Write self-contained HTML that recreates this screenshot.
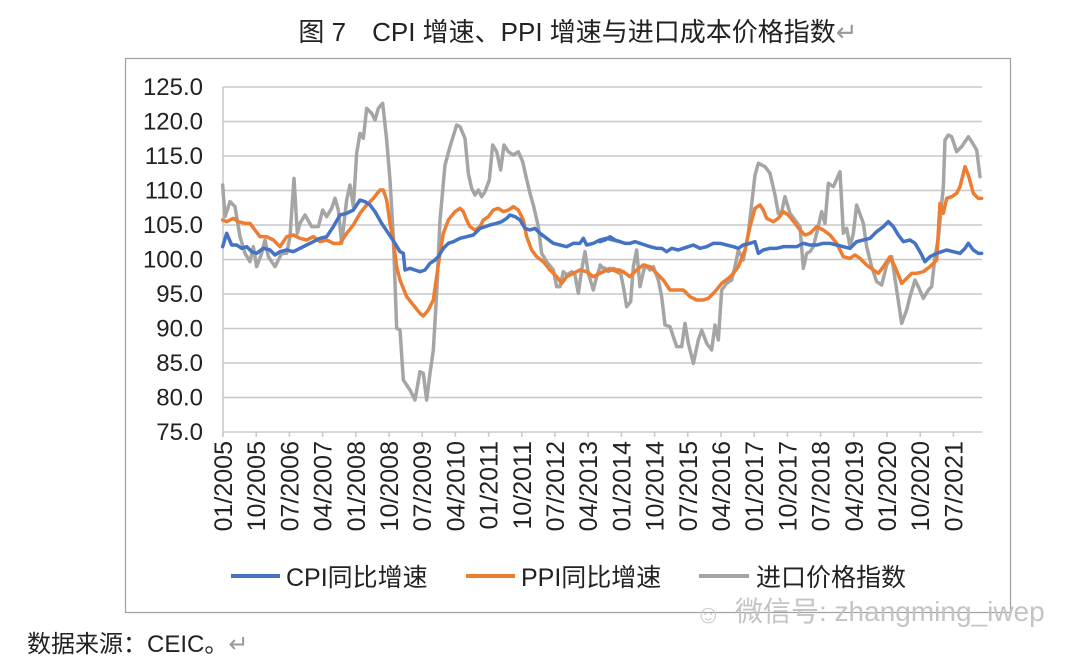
<!DOCTYPE html>
<html><head><meta charset="utf-8"><style>
body{margin:0;background:#fff;width:1080px;height:662px;overflow:hidden;font-family:"Liberation Sans","Noto Sans CJK SC",sans-serif;}
</style></head><body>
<svg width="1080" height="662" xmlns="http://www.w3.org/2000/svg" font-family="Liberation Sans, Noto Sans CJK SC, sans-serif">
<text x="578" y="41" font-size="26" text-anchor="middle" fill="#222">图 7　CPI 增速、PPI 增速与进口成本价格指数<tspan fill="#999">↵</tspan></text>
<rect x="125.5" y="58.5" width="885" height="554" fill="none" stroke="#a0a0a0" stroke-width="1.2"/>
<g stroke="#c8c8c8" stroke-width="1.5">
<line x1="223" x2="982" y1="87" y2="87"/><line x1="223" x2="982" y1="121.5" y2="121.5"/><line x1="223" x2="982" y1="156" y2="156"/><line x1="223" x2="982" y1="190.5" y2="190.5"/><line x1="223" x2="982" y1="225" y2="225"/><line x1="223" x2="982" y1="259.5" y2="259.5"/><line x1="223" x2="982" y1="294" y2="294"/><line x1="223" x2="982" y1="328.5" y2="328.5"/><line x1="223" x2="982" y1="363" y2="363"/><line x1="223" x2="982" y1="397.5" y2="397.5"/><line x1="223" x2="982" y1="432" y2="432"/>
<line x1="223" x2="223" y1="87" y2="437"/>
</g>
<g stroke="#c8c8c8" stroke-width="1.5" id="ticks"></g>
<g font-size="24" fill="#222" text-anchor="end">
<text x="203" y="95">125.0</text><text x="203" y="129.5">120.0</text><text x="203" y="164">115.0</text><text x="203" y="198.5">110.0</text><text x="203" y="233">105.0</text><text x="203" y="267.5">100.0</text><text x="203" y="302">95.0</text><text x="203" y="336.5">90.0</text><text x="203" y="371">85.0</text><text x="203" y="405.5">80.0</text><text x="203" y="440">75.0</text>
</g>
<g font-size="25" fill="#222" text-anchor="end" id="xl"></g>
<g fill="none" stroke-linejoin="round" stroke-linecap="round">
<g transform="translate(200,80) scale(0.33333)">
<polyline vector-effect="non-scaling-stroke" stroke="#a5a5a5" stroke-width="3.5" points="68,315 75,410 90,365 105,380 120,470 135,520 150,545 160,500 170,560 185,520 195,480 205,530 225,560 245,520 260,520 270,470 282,295 292,460 300,430 315,405 335,440 355,440 368,390 380,410 395,385 405,355 415,390 425,490 440,360 450,315 460,380 470,220 480,160 490,175 500,85 515,100 525,120 535,85 548,70 560,180 570,300 580,470 590,745 600,750 610,900 630,930 645,960 660,875 670,880 680,960 690,880 700,810 710,640 720,420 735,255 750,200 770,135 780,140 795,175 805,280 815,325 825,345 835,330 845,350 855,335 868,300 878,195 890,215 902,270 912,195 925,215 940,225 955,215 968,245 978,290 990,340 1000,375 1015,440 1025,520 1040,545 1060,570 1070,620 1080,620 1090,575 1100,585 1115,575 1125,585 1135,640 1145,570 1155,515 1165,580 1180,630 1190,590 1200,560 1215,565 1225,575 1240,565 1260,575"/>
<polyline vector-effect="non-scaling-stroke" stroke="#ed7d31" stroke-width="3.5" points="68,420 80,425 100,415 115,425 135,430 150,430 165,450 180,470 200,470 220,480 240,500 260,470 280,465 300,475 320,480 340,470 360,485 380,480 400,490 420,490 440,460 460,435 480,400 500,375 520,355 540,330 550,330 560,360 570,430 580,480 590,560 600,600 620,650 640,675 660,700 670,708 685,690 700,660 710,590 720,520 730,460 745,420 765,395 780,385 790,395 800,420 810,440 825,450 840,440 850,420 865,410 880,390 895,385 910,395 925,390 940,380 955,390 970,420 980,470 995,510 1010,530 1030,545 1050,570 1070,590 1085,610 1100,590 1120,580 1140,570 1160,575 1180,590 1200,580 1220,570 1240,570 1260,580"/>
<polyline vector-effect="non-scaling-stroke" stroke="#4472c4" stroke-width="3.5" points="68,500 80,460 95,495 110,495 125,505 140,500 155,515 170,520 190,505 210,510 225,525 240,515 260,510 280,515 300,505 320,495 340,485 360,475 380,470 400,440 420,405 440,400 460,390 480,360 495,365 510,375 525,395 545,430 565,460 585,490 600,515 610,520 615,570 630,565 645,570 660,575 675,570 690,550 705,540 715,530 730,505 745,490 760,485 780,475 800,470 820,465 840,445 855,440 870,435 890,430 905,425 920,415 930,405 945,410 960,420 975,445 990,450 1005,445 1020,460 1040,475 1060,490 1080,495 1100,500 1120,490 1140,490 1150,475 1160,495 1180,490 1200,480 1220,475 1240,480 1260,485"/>
</g>
<g transform="translate(600,80) scale(0.33333)">
<polyline vector-effect="non-scaling-stroke" stroke="#a5a5a5" stroke-width="3.5" points="0,555 15,570 30,565 45,570 60,570 70,620 80,680 92,665 100,560 110,510 120,620 135,555 150,570 160,560 175,600 185,650 195,735 210,740 230,800 245,800 255,730 265,790 280,850 295,780 305,750 320,790 335,810 345,735 355,780 365,630 380,610 395,600 405,560 415,510 430,540 445,460 465,285 475,250 495,260 510,280 525,345 535,400 545,395 555,350 570,400 585,420 600,440 610,565 620,520 630,515 640,500 650,460 665,395 675,430 685,310 700,320 720,275 730,460 740,445 750,500 760,460 770,375 790,430 800,500 815,560 830,605 845,615 860,555 875,530 890,630 905,730 920,690 930,650 945,600 955,620 970,655 985,630 995,620 1005,530 1015,475 1030,320 1035,180 1045,165 1055,170 1070,215 1085,200 1105,170 1115,185 1130,210 1140,290"/>
<polyline vector-effect="non-scaling-stroke" stroke="#ed7d31" stroke-width="3.5" points="0,580 20,570 40,570 55,570 70,575 90,590 110,570 130,555 150,560 170,580 190,600 210,630 230,630 250,630 270,650 290,660 310,660 325,655 345,635 365,610 385,595 400,580 415,560 435,510 450,440 465,385 480,375 490,390 500,415 520,425 535,415 550,395 565,405 585,430 600,450 615,465 630,460 650,440 670,450 690,465 710,490 730,530 750,535 765,525 780,535 800,555 820,570 835,580 850,560 870,530 885,560 905,610 920,595 935,580 950,580 970,575 990,560 1010,540 1020,370 1030,400 1040,355 1055,350 1070,340 1080,320 1095,260 1105,285 1120,340 1135,355 1145,355"/>
<polyline vector-effect="non-scaling-stroke" stroke="#4472c4" stroke-width="3.5" points="0,485 15,480 30,470 45,480 60,485 75,490 90,490 105,485 120,490 135,495 150,500 170,505 185,505 200,515 215,505 235,510 250,505 265,500 280,495 300,505 320,500 340,490 360,490 380,495 400,500 415,505 430,495 450,490 465,485 475,520 490,510 510,505 530,505 550,500 570,500 590,500 610,490 630,495 650,495 670,490 690,490 710,495 730,500 750,505 770,485 790,480 810,475 830,455 850,440 865,425 880,440 895,465 910,485 930,480 945,490 960,515 975,545 990,530 1010,520 1025,515 1040,510 1060,515 1080,520 1095,505 1105,490 1120,510 1135,520 1145,520"/>
</g>
</g>
<line x1="231" x2="280" y1="576" y2="576" stroke="#4472c4" stroke-width="4"/>
<text x="286" y="586" font-size="25" fill="#222">CPI同比增速</text>
<line x1="466" x2="515" y1="576" y2="576" stroke="#ed7d31" stroke-width="4"/>
<text x="521" y="586" font-size="25" fill="#222">PPI同比增速</text>
<line x1="699" x2="749" y1="576" y2="576" stroke="#a5a5a5" stroke-width="4"/>
<text x="756" y="586" font-size="25" fill="#222">进口价格指数</text>
<text x="735" y="621" font-size="28" fill="#c4c4c4">微信号: zhangming_iwep</text>
<text x="695" y="623" font-size="26" fill="#ccc">☺</text>
<text x="27" y="652" font-size="24" fill="#222">数据来源：CEIC。<tspan fill="#999">↵</tspan></text>
<script>
var t=document.getElementById('ticks'),xl=document.getElementById('xl'),ns='http://www.w3.org/2000/svg';
for(var i=0;i<23;i++){var x=223+i*33.2;
var l=document.createElementNS(ns,'line');l.setAttribute('x1',x);l.setAttribute('x2',x);l.setAttribute('y1',432);l.setAttribute('y2',437);t.appendChild(l);
var mo=i*9,yr=2005+Math.floor(mo/12),mm=mo%12+1;
var s=(mm<10?'0':'')+mm+'/'+yr;
var tx=document.createElementNS(ns,'text');tx.setAttribute('transform','translate('+(x+9)+',441) rotate(-90)');tx.textContent=s;xl.appendChild(tx);}
</script>
</svg>
</body></html>
